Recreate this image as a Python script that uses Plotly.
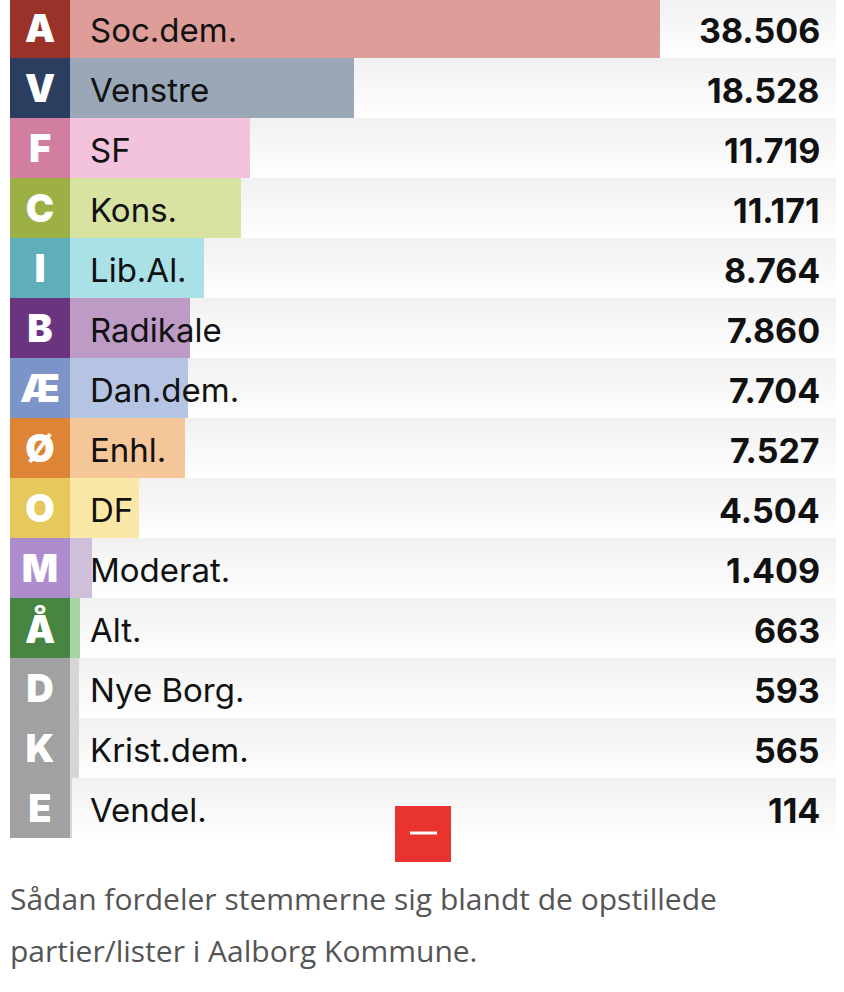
import plotly.graph_objects as go

# party data
letters = ["A", "V", "F", "C", "I", "B", "Æ", "Ø", "O", "M", "Å", "D", "K", "E"]
names = ["Soc.dem.", "Venstre", "SF", "Kons.", "Lib.Al.", "Radikale", "Dan.dem.",
         "Enhl.", "DF", "Moderat.", "Alt.", "Nye Borg.", "Krist.dem.", "Vendel."]
votes = [38506, 18528, 11719, 11171, 8764, 7860, 7704, 7527, 4504, 1409, 663, 593, 565, 114]
letter_colors = ["#9a3229", "#2c3e5f", "#d17ea1", "#9db045", "#5eafbb", "#6a347e", "#7d94c8",
                 "#dd8437", "#e6c95a", "#ad8ccd", "#488442", "#a1a1a1", "#a1a1a1", "#a1a1a1"]
bar_colors = ["#de9d98", "#99a7b7", "#f3c2dc", "#d9e3a1", "#aae1e6", "#bd9bc5", "#b6c4e4",
              "#f4c698", "#fbe8a6", "#cfbfdb", "#a8d4a8", "#d6d6d6", "#d6d6d6", "#d6d6d6"]
caption = ["Sådan fordeler stemmerne sig blandt de opstillede",
           "partier/lister i Aalborg Kommune."]

W, H = 844, 992
XMAX = 50000
rows = list(range(len(letters)))

fig = go.Figure()

# row background gradient (light grey at top of each row, white at bottom)
steps = 12
y_edges = []
z = []
for i in rows:
    for k in range(steps):
        y_edges.append(i - 0.5 + k / steps)
        z.append([k])
y_edges.append(len(rows) - 0.5)
fig.add_trace(go.Heatmap(
    x=[0, XMAX], y=y_edges, z=z, zsmooth=False, showscale=False, hoverinfo="skip",
    colorscale=[[0, "#f1f1f1"], [1, "#fefefe"]],
))

# vote bars
fig.add_trace(go.Bar(
    x=votes, y=rows, orientation="h", marker=dict(color=bar_colors, line_width=0),
    width=1, hoverinfo="skip",
))

# letter boxes
fig.add_trace(go.Bar(
    x=[1] * len(rows), y=rows, orientation="h", xaxis="x2",
    marker=dict(color=letter_colors, line_width=0), width=1,
    text=letters, textposition="inside", insidetextanchor="middle", textangle=0,
    constraintext="none",
    textfont=dict(family="Inter", size=38, color="white", weight=900),
    hoverinfo="skip",
))

# party names and vote counts
for i, (n, v) in enumerate(zip(names, votes)):
    fig.add_annotation(x=0, y=i, xref="x", yref="y", text=n, showarrow=False,
                       xanchor="left", xshift=18, yshift=-2,
                       font=dict(family="Inter", size=33, color="#111111"))
    fig.add_annotation(x=822 / W, y=i, xref="paper", yref="y", yshift=-2,
                       text=f"{v:,}".replace(",", "."), showarrow=False, xanchor="right",
                       font=dict(family="Inter", size=34, color="#111111", weight=700))

# caption
for j, line in enumerate(caption):
    fig.add_annotation(x=8 / W, y=1 - (898 + 52 * j) / H, xref="paper", yref="paper",
                       text=line, showarrow=False, xanchor="left", yanchor="middle",
                       font=dict(family="Open Sans", size=30, color="#555555"))

# red collapse button
fig.add_shape(type="rect", xref="paper", yref="paper",
              x0=395 / W, x1=451 / W, y0=1 - 862 / H, y1=1 - 806 / H,
              fillcolor="#e8332f", line_width=0)
fig.add_shape(type="line", xref="paper", yref="paper",
              x0=410 / W, x1=437 / W, y0=1 - 833 / H, y1=1 - 833 / H,
              line=dict(color="white", width=3))

fig.update_layout(
    width=W, height=H, margin=dict(l=0, r=0, t=0, b=0),
    paper_bgcolor="white", plot_bgcolor="white",
    showlegend=False, bargap=0,
    xaxis=dict(domain=[70 / W, 836 / W], range=[0, XMAX], visible=False, fixedrange=True),
    xaxis2=dict(domain=[10 / W, 70 / W], range=[0, 1], visible=False, anchor="y", fixedrange=True),
    yaxis=dict(domain=[1 - 838 / H, 1], range=[len(rows) - 0.5, -0.5 + 2 / 60],
               visible=False, fixedrange=True),
)

# drop the default 8px body margin so the figure sits at the page corner
fig.write_html("out.html", config={"displayModeBar": False},
               post_script="document.body.style.margin='0';")
